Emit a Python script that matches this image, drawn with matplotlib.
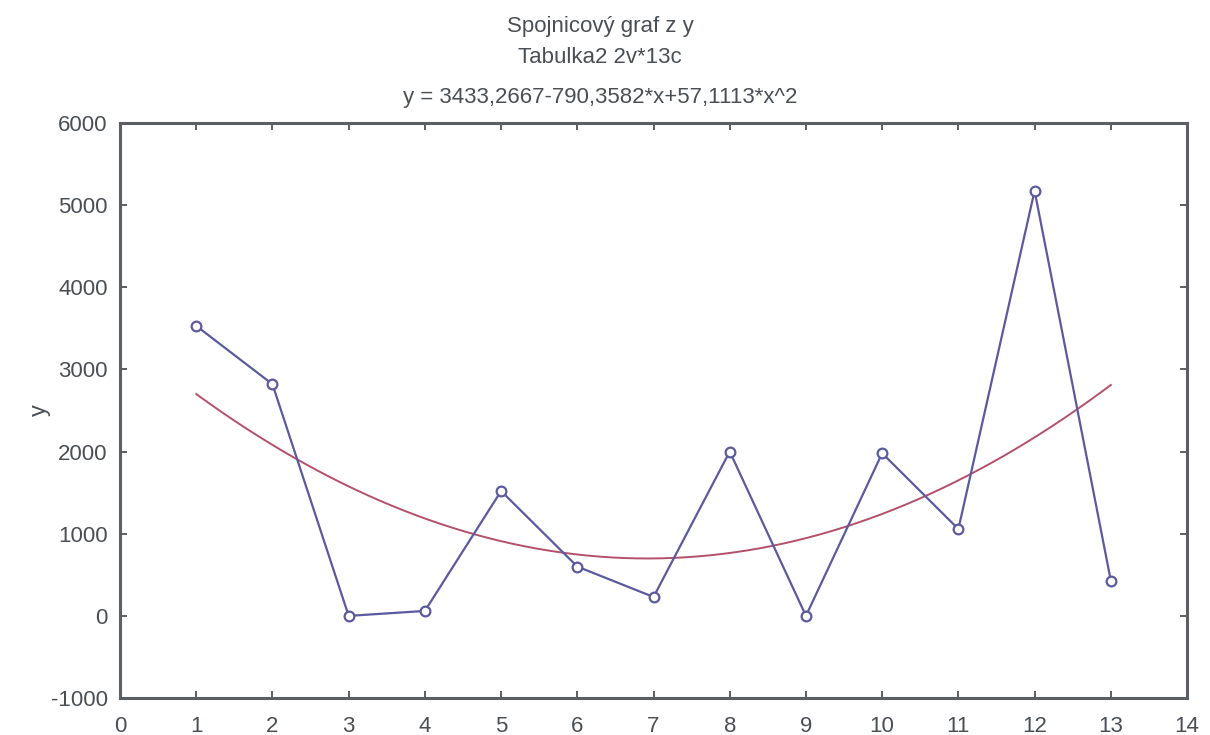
import numpy as np
import matplotlib
matplotlib.use("Agg")
import matplotlib.pyplot as plt

# data
x_vals = [1, 2, 3, 4, 5, 6, 7, 8, 9, 10, 11, 12, 13]
y_vals = [3530, 2820, 0, 60, 1520, 600, 230, 2000, 0, 1980, 1057, 5175, 430]
coef = [3433.2667, -790.3582, 57.1113]  # y = a + b*x + c*x^2
title_lines = ["Spojnicový graf z y", "Tabulka2 2v*13c",
               "y = 3433,2667-790,3582*x+57,1113*x^2"]
x_ticks = list(range(0, 15))
y_ticks = [-1000, 0, 1000, 2000, 3000, 4000, 5000, 6000]

plt.rcParams['font.family'] = ['Liberation Sans', 'DejaVu Sans']
plt.rcParams['axes.unicode_minus'] = False
text_col = "#4a4f55"
frame_col = "#5a5f63"

fig = plt.figure(figsize=(12.1, 7.35), dpi=100)
ax = fig.add_axes([0.0992, 0.0503, 0.8818, 0.7824])

xf = np.linspace(x_vals[0], x_vals[-1], 300)
yf = coef[0] + coef[1] * xf + coef[2] * xf ** 2
ax.plot(xf, yf, color="#b5506a", lw=1.4, zorder=2)
ax.plot(x_vals, y_vals, color="#5b5a9e", lw=1.6, marker="o", markersize=7,
        markerfacecolor="white", markeredgecolor="#5b5a9e", markeredgewidth=1.6, zorder=3)

ax.set_xlim(0, 14)
ax.set_ylim(-1000, 6000)
ax.set_xticks(x_ticks)
ax.set_yticks(y_ticks)
ax.tick_params(direction="in", length=5, width=1.4, colors=frame_col,
               top=True, right=True, labelsize=16, labelcolor=text_col)
ax.tick_params(axis="x", pad=13)
ax.tick_params(axis="y", pad=9)
for s in ax.spines.values():
    s.set_color(frame_col)
    s.set_linewidth(2.2)

fig.text(40 / 1210, 1 - 410 / 735, "y", rotation=90, ha="center", va="center",
         fontsize=17, color=text_col)

for line, base in zip(title_lines, [32, 63, 103]):
    fig.text(600 / 1210, 1 - base / 735, line, ha="center", va="baseline",
             fontsize=16, color=text_col)

fig.savefig("out.png", dpi=100)
